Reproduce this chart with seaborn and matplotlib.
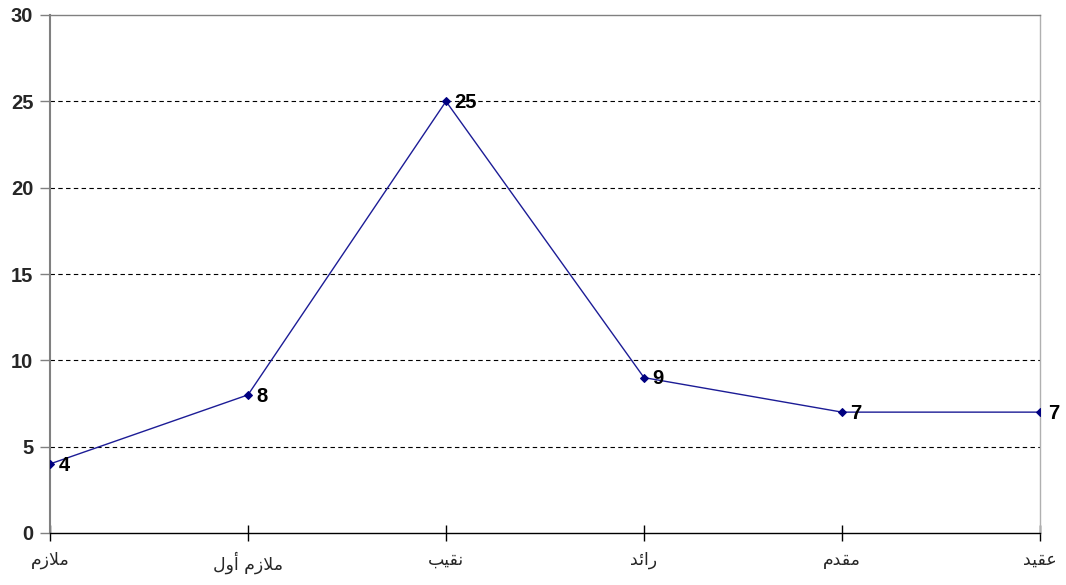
import numpy as np
import pandas as pd
import matplotlib
matplotlib.use("Agg")
import matplotlib.pyplot as plt
import seaborn as sns

# ranks (logical order) and their counts
categories = ["ملازم", "ملازم أول", "نقيب", "رائد", "مقدم", "عقيد"]
values = [4, 8, 25, 9, 7, 7]
# same ranks written with Arabic presentation forms in visual order,
# since matplotlib does no Arabic shaping
tick_labels = [
    "\uFEE1\uFEAF\uFEFC\uFEE3",
    "\uFEDD\uFEED\uFE83 \uFEE1\uFEAF\uFEFC\uFEE3",
    "\uFE90\uFEF4\uFED8\uFEE7",
    "\uFEAA\uFE8B\uFE8D\uFEAD",
    "\uFEE1\uFEAA\uFED8\uFEE3",
    "\uFEAA\uFEF4\uFED8\uFECB",
]
y_ticks = [0, 5, 10, 15, 20, 25, 30]

df = pd.DataFrame({"pos": np.arange(len(categories)), "rank": categories, "count": values})

sns.set_style("white")
plt.rcParams["font.family"] = ["Liberation Sans", "DejaVu Sans"]

fig = plt.figure(figsize=(10.66, 5.85), dpi=100)
ax = fig.add_axes([50 / 1066, 1 - 533 / 585, 990 / 1066, 518 / 585])

for y in y_ticks[1:-1]:
    ax.axhline(y, color="black", lw=0.8, ls=(0, (4, 3)), zorder=1)

sns.lineplot(data=df, x="pos", y="count", ax=ax, color="#1c1c96", lw=1,
             marker="D", markersize=4, markerfacecolor="#000080",
             markeredgecolor="#000080", zorder=3)

for x, v in zip(df["pos"], df["count"]):
    ax.annotate(str(v), (x, v), xytext=(6, -1), textcoords="offset points",
                ha="left", va="center", fontsize=14.5, fontweight="bold",
                color="black", annotation_clip=False)

ax.set_xlim(0, len(categories) - 1)
ax.set_ylim(0, 30)
ax.set_yticks(y_ticks)
ax.set_yticklabels([str(t) for t in y_ticks], fontsize=14.5, fontweight="bold")
ax.set_xticks(df["pos"])
ax.set_xticklabels(tick_labels, fontsize=12.5, family=["DejaVu Sans"])
ax.set_xlabel("")
ax.set_ylabel("")

ax.tick_params(axis="y", direction="out", length=7, width=1, color="#808080", pad=5, left=True)
ax.tick_params(axis="x", direction="inout", length=12, width=1, color="black", pad=7, bottom=True)

ax.spines["left"].set_color("#808080")
ax.spines["left"].set_linewidth(1.5)
ax.spines["bottom"].set_color("black")
ax.spines["bottom"].set_linewidth(1)
ax.spines["top"].set_color("#808080")
ax.spines["top"].set_linewidth(1)
ax.spines["right"].set_color("#b0b0b0")
ax.spines["right"].set_linewidth(1)
ax.spines["bottom"].set_zorder(4)

fig.savefig("out.png", dpi=100)
